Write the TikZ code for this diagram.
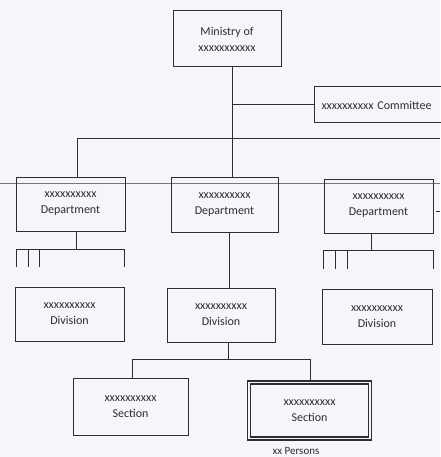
\documentclass[tikz,border=0pt]{standalone}
\usepackage{fontspec}
\setmainfont{Carlito}
\definecolor{paper}{HTML}{F5F6FA}
\definecolor{ink}{HTML}{2E2E2E}
\begin{document}
\begin{tikzpicture}[x=1pt,y=-1pt,
  box/.style={draw=ink,line width=1pt,fill=none,inner sep=0pt,align=center,
    font=\fontsize{12}{16}\selectfont,text=ink},
  link/.style={draw=ink,line width=1pt},
  scan/.style={draw=ink!65,line width=0.7pt}]
\fill[paper] (0,0) rectangle (440,457);
\useasboundingbox (0,0) rectangle (440,457);
% scan line
\draw[scan] (0,183) -- (440,183);
% nodes
\node[box,minimum width=108pt,minimum height=56pt] (min) at (227,39) {Ministry of\\xxxxxxxxxxx};
\node[box,minimum width=150pt,minimum height=36pt,anchor=west,align=left,text width=142pt,inner xsep=7pt] (com) at (314,105) {xxxxxxxxxx Committee};
\node[box,minimum width=109pt,minimum height=54pt] (d1) at (70.5,204) {xxxxxxxxxx\\Department};
\node[box,minimum width=107pt,minimum height=55pt] (d2) at (224.5,204.5) {xxxxxxxxxx\\Department};
\node[box,minimum width=109pt,minimum height=54pt] (d3) at (378.5,206) {xxxxxxxxxx\\Department};
\node[box,minimum width=109pt,minimum height=54pt] (v1) at (69.5,314) {xxxxxxxxxx\\Division};
\node[box,minimum width=108pt,minimum height=54pt] (v2) at (221,315) {xxxxxxxxxx\\Division};
\node[box,minimum width=110pt,minimum height=55pt] (v3) at (377,316.5) {xxxxxxxxxx\\Division};
\node[box,minimum width=115pt,minimum height=57pt] (s1) at (130.5,406.5) {xxxxxxxxxx\\Section};
\node[box,line width=1.5pt,double=paper,double distance=1.5pt,minimum width=121pt,minimum height=56pt] (s2) at (309.5,410.5) {xxxxxxxxxx\\Section};
\node[font=\fontsize{11}{13}\selectfont,text=ink,inner sep=0pt] (per) at (296,451) {xx Persons};
% coordinates
\coordinate (mb) at (232,67);
\coordinate (cj) at (232,105);
\coordinate (hj) at (232,139);
\coordinate (hl) at (77,139);
\coordinate (hr) at (440,139);
% ministry to departments
\draw[link] (mb) -- (d2.north -| mb);
\draw[link] (cj) -- (com.west);
\draw[link] (hl) -- (hr);
\draw[link] (hl) -- (d1.north -| hl);
% under left department
\coordinate (l0) at (76,249);
\draw[link] (d1.south -| l0) -- (l0);
\draw[link] (16,249) -- (124,249);
\draw[link] (16,249) -- (16,267);
\draw[link] (28,249) -- (28,267);
\draw[link] (39,249) -- (39,267);
\draw[link] (124,249) -- (124,267);
% under right department
\coordinate (r0) at (371,250);
\draw[link] (d3.south -| r0) -- (r0);
\draw[link] (323,250) -- (433,250);
\draw[link] (323,250) -- (323,269);
\draw[link] (335,250) -- (335,269);
\draw[link] (347,250) -- (347,269);
\draw[link] (433,250) -- (433,269);
\draw[ink,line width=0.8pt] (436,211) -- (440,211);
% center department to division
\coordinate (c0) at (229,250);
\draw[link] (d2.south -| c0) -- (v2.north -| c0);
% division to sections
\coordinate (vj) at (228,359);
\draw[link] (v2.south -| vj) -- (vj);
\draw[link] (132,359) -- (310,359);
\draw[link] (132,359) -- (s1.north -| 132,0);
\draw[link] (310,359) -- (s2.north -| 310,0);
\end{tikzpicture}
\end{document}
